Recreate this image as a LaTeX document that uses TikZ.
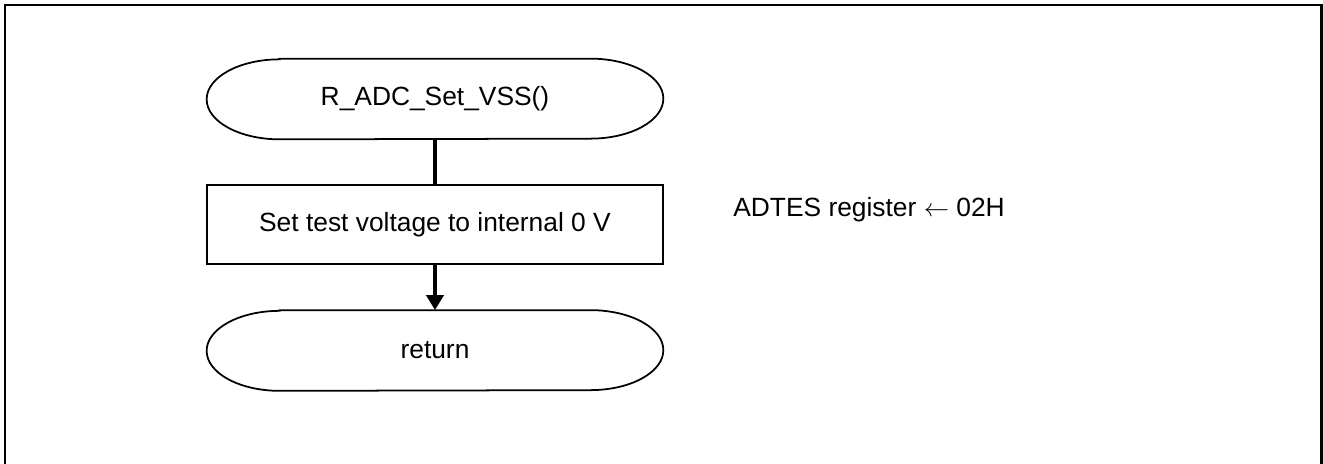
\documentclass[tikz,border=0pt]{standalone}
\usepackage{fontspec}
\setmainfont{Liberation Sans}
\usetikzlibrary{arrows.meta}

% outline of a terminal node: flat top and bottom, half ellipses at the ends
\newcommand{\termoutline}[1]{%
  \draw[line width=1pt] ([xshift=1.46cm]#1.north west) -- ([xshift=-1.46cm]#1.north east)
    arc[start angle=90,end angle=-90,x radius=1.46cm,y radius=0.8cm]
    -- ([xshift=1.46cm]#1.south west)
    arc[start angle=270,end angle=90,x radius=1.46cm,y radius=0.8cm] -- cycle;}

\tikzset{
  terminal/.style={minimum width=9.12cm, minimum height=1.6cm, inner sep=0pt},
  procbox/.style={draw, line width=1pt, minimum width=9.12cm, minimum height=1.58cm, inner sep=0pt},
  flow/.style={line width=2.2pt},
  flowarrow/.style={line width=2.2pt, -{Triangle[length=0.3cm,width=0.34cm]}},
}

\begin{document}
\begin{tikzpicture}[font=\fontsize{15}{18}\selectfont]
    \clip (0,0) rectangle (26.46,-9.28);
    \draw[line width=1.2pt] (0.1,-0.1) rectangle (26.43,-10);
    \node[terminal] (Start) at (8.70,-1.98) {R\_ADC\_Set\_VSS()};
    \termoutline{Start}
    \node[procbox] (SetVolt) at (8.70,-4.49) {Set test voltage to internal 0 V};
    \draw[flow] (Start) to (SetVolt);
    \node[terminal] (Return) at (8.70,-7.01) {return};
    \termoutline{Return}
    \draw[flowarrow] (SetVolt) to (Return);
    \node[anchor=base west, inner sep=0pt] (Note) at (14.66,-4.34) {ADTES register $\leftarrow$ 02H};
  \end{tikzpicture}
\end{document}
